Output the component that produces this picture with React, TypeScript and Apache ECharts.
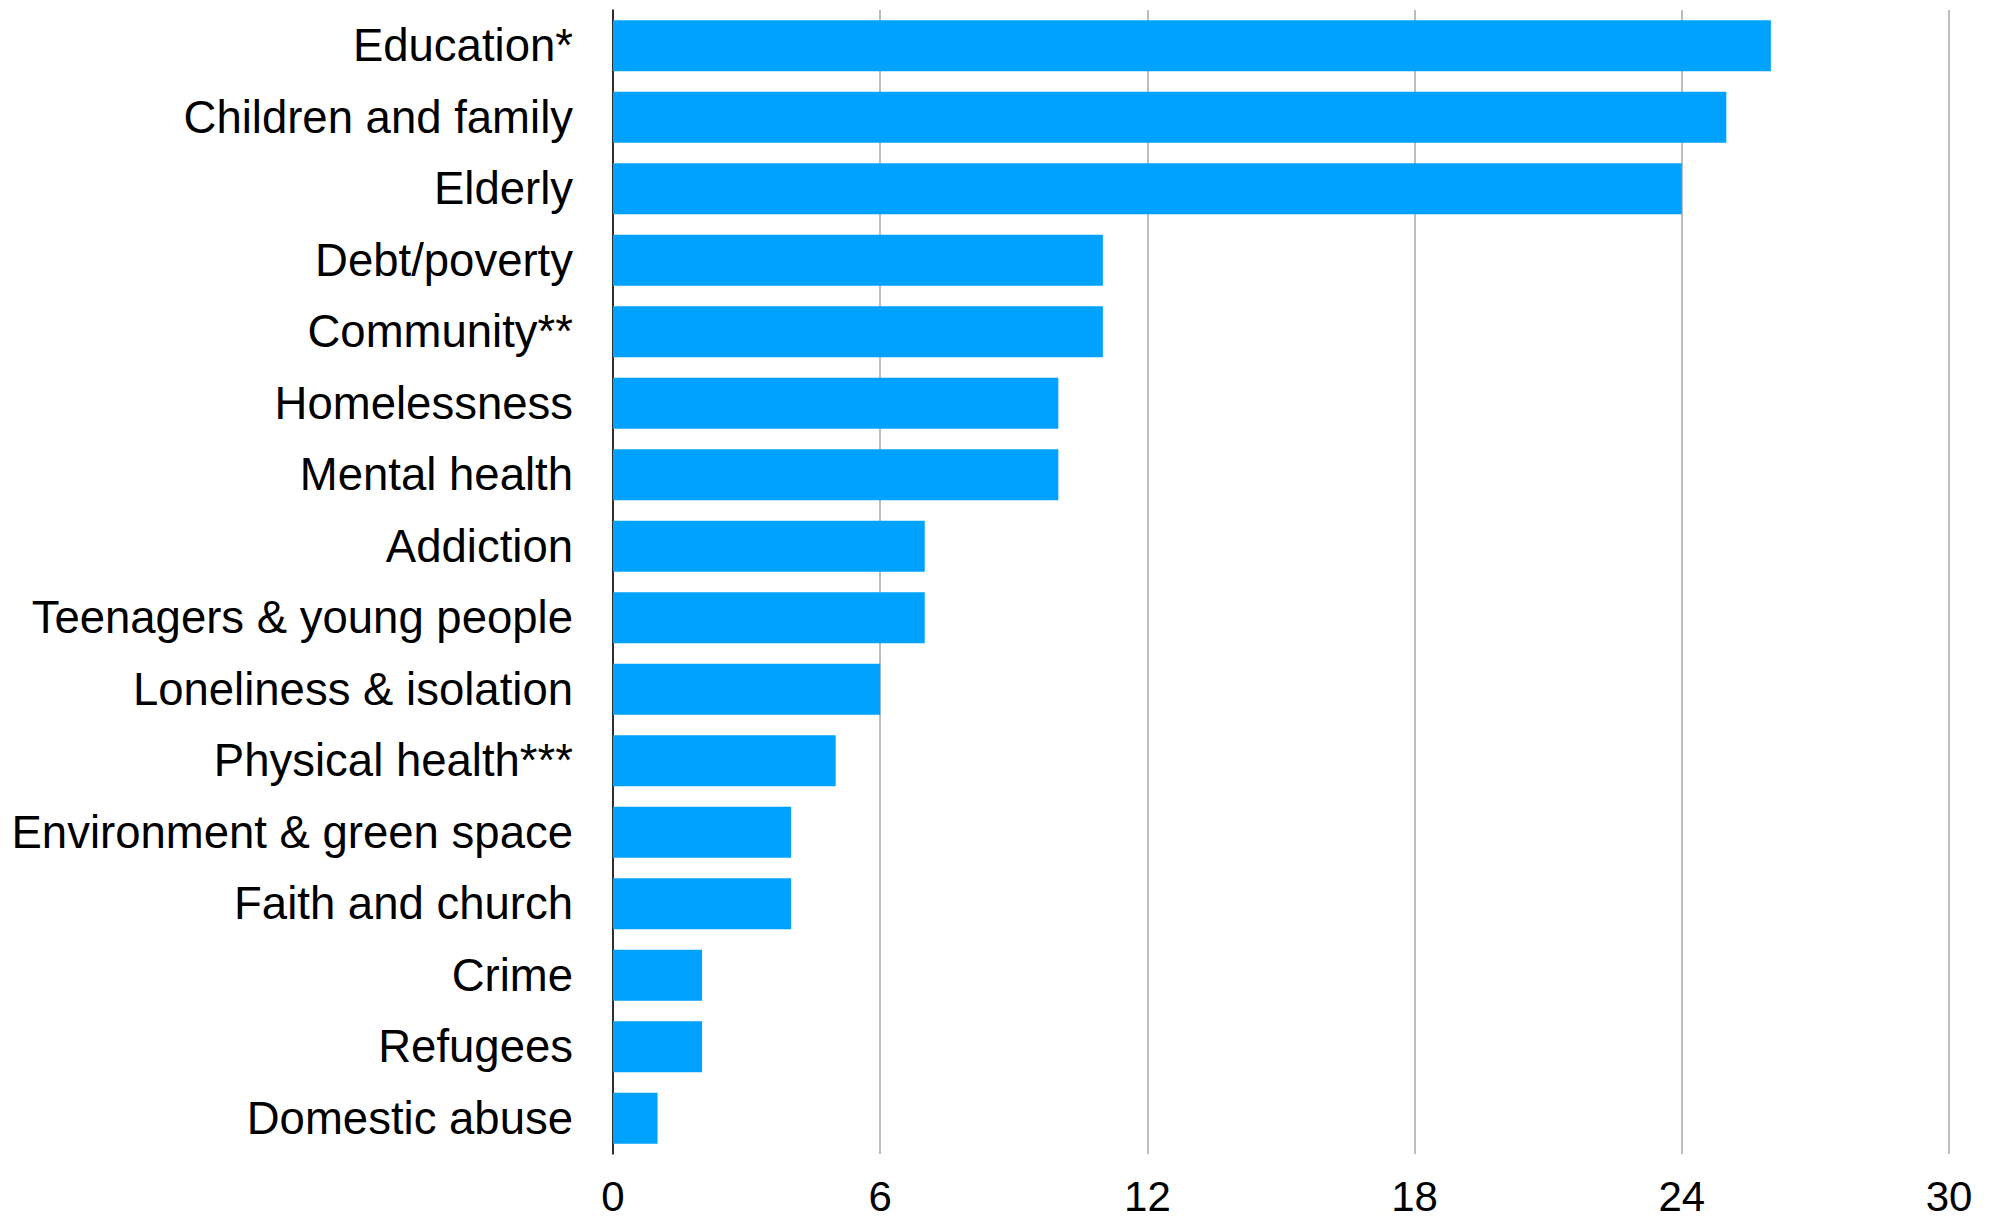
import React, { useEffect, useRef } from "react";
import * as echarts from "echarts";

const categories = [
  "Education*",
  "Children and family",
  "Elderly",
  "Debt/poverty",
  "Community**",
  "Homelessness",
  "Mental health",
  "Addiction",
  "Teenagers & young people",
  "Loneliness & isolation",
  "Physical health***",
  "Environment & green space",
  "Faith and church",
  "Crime",
  "Refugees",
  "Domestic abuse",
];
const values = [26, 25, 24, 11, 11, 10, 10, 7, 7, 6, 5, 4, 4, 2, 2, 1];
const xTicks = [0, 6, 12, 18, 24, 30];

export default function App() {
  const ref = useRef<HTMLDivElement>(null);
  useEffect(() => {
    if (!ref.current) return;
    const chart = echarts.init(ref.current, undefined, { renderer: "svg" });
    chart.setOption({
      animation: false,
      backgroundColor: "#ffffff",
      textStyle: { fontFamily: "Liberation Sans, Arial, sans-serif" },
      grid: { left: 613, right: 51, top: 10, height: 1144, containLabel: false },
      xAxis: {
        type: "value",
        min: xTicks[0],
        max: xTicks[xTicks.length - 1],
        interval: 6,
        axisLine: { show: false },
        axisTick: { show: false },
        splitLine: { show: true, lineStyle: { color: "#bdbdbd", width: 2 } },
        axisLabel: {
          color: "#000",
          fontSize: 42,
          verticalAlign: "middle",
          margin: 42,
          fontFamily: "Liberation Sans, Arial, sans-serif",
        },
      },
      yAxis: {
        type: "category",
        data: categories,
        inverse: true,
        axisLine: { show: true, lineStyle: { color: "#000", width: 1.5 } },
        axisTick: { show: false },
        splitLine: { show: false },
        axisLabel: {
          color: "#000",
          fontSize: 45.5,
          margin: 40,
          fontFamily: "Liberation Sans, Arial, sans-serif",
        },
      },
      series: [
        {
          type: "bar",
          data: values,
          barCategoryGap: "29%",
          itemStyle: { color: "#00a2ff" },
          z: 3,
        },
      ],
    });
    return () => chart.dispose();
  }, []);
  return (
    <div
      ref={ref}
      style={{ position: "fixed", left: 0, top: 0, width: 2000, height: 1223, background: "#fff" }}
    />
  );
}
